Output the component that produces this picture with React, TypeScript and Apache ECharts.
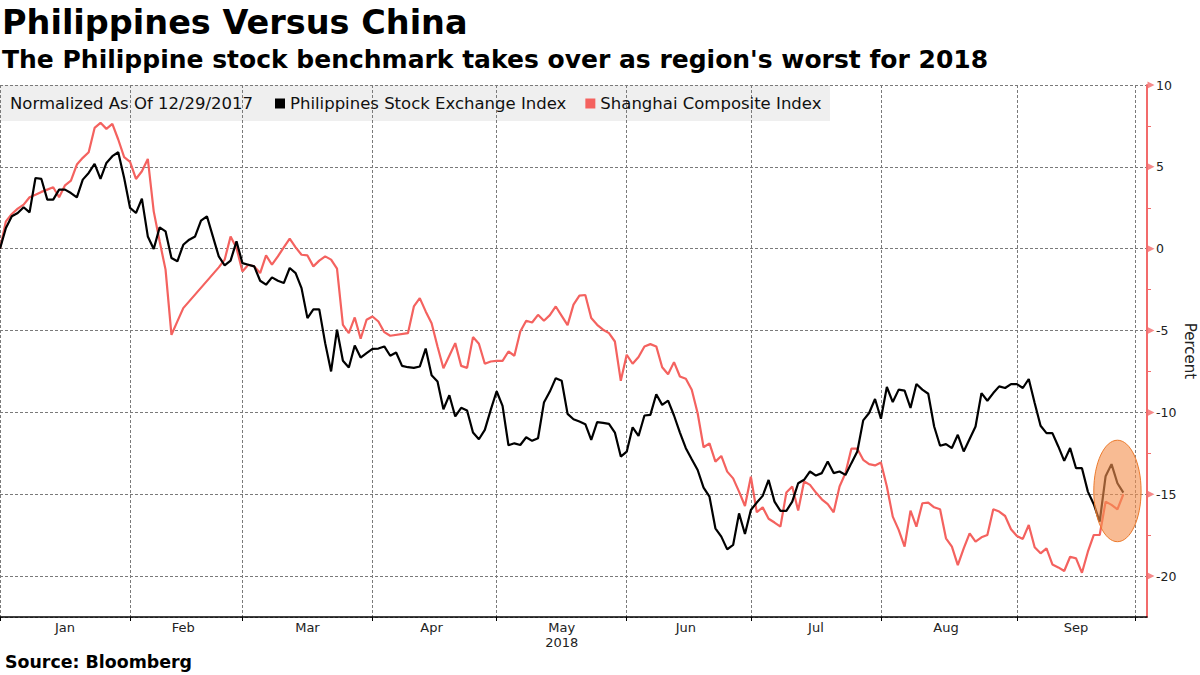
import React, { useEffect, useRef } from "react";
import * as echarts from "echarts";

const FONT = "DejaVu Sans";

const titleText = "Philippines Versus China";
const subtitleText = "The Philippine stock benchmark takes over as region's worst for 2018";
const sourceText = "Source: Bloomberg";
const legendNote = "Normalized As Of 12/29/2017";

const phName = "Philippines Stock Exchange Index";
const shName = "Shanghai Composite Index";

// month labels and number of trading-day slots per month on the x axis
const monthNames = ["Jan", "Feb", "Mar", "Apr", "May", "Jun", "Jul", "Aug", "Sep", "Oct"];
const tradingDays = [22, 19, 22, 21, 22, 21, 22, 23, 20, 3];
const yearLabel = "2018";
const yearUnderMonth = "May";

// major y tick values (marked with small arrows on the right axis)
const yTickValues = [10, 5, 0, -5, -10, -15, -20];

// percent change since 12/29/2017, one value per trading day
const phValues = [
  0, 1.26, 1.98, 2.18, 2.53, 2.22, 4.32, 4.26, 3.0, 3.0, 3.61, 3.61, 3.4, 3.14, 4.22, 4.63, 5.18, 4.26, 5.24, 5.65,
  5.89, 4.32, 2.49, 2.18, 3.06, 0.75, -0.02, 1.3, 1.06, -0.57, -0.77, 0.24, 0.55, 0.75, 1.71, 1.98, 0.75, -0.47, -1.02, -0.73,
  0.45, -0.88, -0.98, -1.08, -1.96, -2.2, -1.75, -1.96, -2.1, -1.18, -1.49, -2.41, -4.24, -3.71, -3.71, -5.77, -7.5, -4.95, -6.85, -7.26,
  -5.91, -6.65, -6.38, -6.12, -6.1, -5.97, -6.54, -6.34, -7.16, -7.24, -7.28, -7.2, -6.1, -7.73, -8.11, -9.81, -8.95, -10.25, -9.72, -9.89,
  -11.23, -11.64, -11.07, -9.85, -8.71, -9.6, -12.01, -11.89, -11.99, -11.52, -11.74, -11.58, -9.4, -8.73, -7.91, -8.07, -10.09, -10.42, -10.56, -10.72,
  -11.68, -10.6, -10.64, -10.7, -11.23, -12.7, -12.4, -10.91, -11.44, -10.19, -10.15, -8.89, -9.54, -9.28, -10.19, -11.23, -12.19, -12.86, -13.52, -14.6,
  -15.15, -17.08, -17.59, -18.37, -18.1, -16.17, -17.43, -15.96, -15.51, -15.1, -14.13, -15.45, -16.02, -16.02, -15.45, -14.33, -14.12, -13.61, -13.86, -13.71,
  -13.0, -13.71, -13.61, -13.82, -13.1, -12.39, -10.49, -10.04, -9.18, -10.39, -8.45, -9.37, -8.61, -8.67, -9.73, -8.27, -8.61, -8.86, -10.86, -12.04,
  -11.94, -12.18, -11.37, -12.39, -11.63, -10.86, -8.82, -9.29, -8.82, -8.41, -8.51, -8.27, -8.27, -8.51, -7.96, -9.43, -10.82, -11.27, -11.27, -12.08,
  -12.96, -12.18, -13.41, -13.41, -14.84, -15.61, -16.67, -13.9, -13.16, -14.33, -14.9,
];

const shValues = [
  0, 1.67, 2.12, 2.45, 2.69, 3.14, 3.3, 3.47, 3.61, 3.75, 3.14, 3.87, 4.16, 5.14, 5.55, 5.89, 7.38, 7.69, 7.32, 7.62,
  6.67, 5.59, 5.3, 4.26, 4.73, 5.48, 2.28, 0.45, -1.28, -5.26, -4.44, -3.63, null, null, null, null, null, -1.14, -0.67, 0.75,
  0.04, -1.39, -0.98, -1.08, -1.49, -0.41, -0.98, -0.47, 0.08, 0.61, 0.08, -0.37, -0.41, -1.08, -0.73, -0.47, -0.67, -1.22, -4.65, -5.16,
  -4.2, -5.5, -4.34, -4.14, -4.45, -5.1, -5.32, null, null, -5.16, -3.53, -3.02, -3.83, -4.55, -5.97, -7.3, -6.54, -5.77, -7.16, -7.28,
  -5.4, -5.81, -7.03, -6.89, -6.85, -6.85, -6.28, -6.54, -5.06, -4.4, -4.51, -4.04, -4.4, -4.06, -3.53, -4.1, -4.67, -3.42, -2.87, -2.83,
  -4.24, -4.65, -4.95, -5.16, -5.67, -8.07, -6.48, -7.03, -6.62, -5.97, -5.83, -5.97, -7.24, -7.67, -6.93, -7.81, -7.95, -8.62, -10.05, -12.13,
  -11.89, -13.01, -12.66, -13.62, -14.03, -14.84, -15.72, -13.93, -16.1, -15.8, -16.5, -16.73, -16.98, -14.9, -14.53, -16.0, -14.22, -14.43, -14.9, -15.31,
  -15.61, -16.1, -14.53, -13.71, -12.22, -12.22, -12.9, -13.16, -13.24, -13.06, -14.53, -16.37, -17.18, -18.2, -16.0, -16.98, -15.55, -15.51, -15.8, -15.92,
  -17.69, -18.2, -19.33, -18.31, -17.39, -17.9, -17.63, -17.49, -15.92, -16.06, -16.33, -17.14, -17.55, -17.73, -16.88, -18.24, -18.61, -18.31, -19.29, -19.47,
  -19.69, -18.82, -18.92, -19.8, -18.51, -17.49, -17.49, -15.45, -15.65, -15.92, -15.0,
];

// highlighted region (circle around latest readings): [x start, y top, x end, y bottom]
const highlightBox = [185, -11.7, 193, -17.9];

const yMin = -22.5;
const yMax = 10;

const PH_COLOR = "#000000";
const SH_COLOR = "#f4625f";
const AXIS_RED = "#f26b6b";
const GRID_COLOR = "#7a7a7a";

export default function App() {
  const ref = useRef<HTMLDivElement | null>(null);

  useEffect(() => {
    if (!ref.current) return;
    const chart = echarts.init(ref.current, null, { renderer: "svg" });

    const categories: string[] = [];
    const monthStart = new Set<number>();
    const labelIdx = new Set<number>();
    let idx = 0;
    monthNames.forEach((m, mi) => {
      const n = tradingDays[mi];
      monthStart.add(idx);
      if (m !== "Oct") labelIdx.add(idx + Math.floor(n / 2));
      for (let d = 1; d <= n; d++) categories.push(`${m} ${d}`);
      idx += n;
    });
    const lastIdx = categories.length - 1;

    const option: any = {
      animation: false,
      backgroundColor: "#ffffff",
      title: [
        {
          text: titleText,
          left: 2,
          top: 5,
          padding: 0,
          textStyle: { fontFamily: FONT, fontWeight: "bold", fontSize: 33.5, color: "#000" },
        },
        {
          text: subtitleText,
          left: 2,
          top: 47,
          padding: 0,
          textStyle: { fontFamily: FONT, fontWeight: "bold", fontSize: 25, color: "#000" },
        },
        {
          text: sourceText,
          left: 5,
          top: 653,
          padding: 0,
          textStyle: { fontFamily: FONT, fontWeight: "bold", fontSize: 17.4, color: "#000" },
        },
      ],
      legend: {
        data: [phName, shName],
        left: 275,
        top: 95,
        padding: 0,
        icon: "rect",
        itemWidth: 10,
        itemHeight: 10,
        itemGap: 19,
        textStyle: { fontFamily: FONT, fontSize: 16.5, color: "#111" },
      },
      graphic: [
        {
          type: "rect",
          left: 0,
          top: 85,
          z: -10,
          silent: true,
          shape: { width: 830, height: 36 },
          style: { fill: "#efefef" },
        },
        {
          type: "text",
          left: 10,
          top: 95,
          z: 10,
          style: { text: legendNote, fontFamily: FONT, fontSize: 16.5, fill: "#111" },
        },
      ],
      grid: { left: 0, right: 53, top: 85, bottom: 58, containLabel: false, outerBoundsMode: "none" },
      xAxis: {
        type: "category",
        data: categories,
        boundaryGap: false,
        axisLine: { show: true, onZero: false, lineStyle: { color: "#000", width: 1.5 } },
        axisTick: {
          show: true,
          length: 4,
          interval: (i: number) => monthStart.has(i),
          lineStyle: { color: "#000", width: 1 },
        },
        axisLabel: {
          interval: (i: number) => labelIdx.has(i),
          margin: 3,
          fontFamily: FONT,
          fontSize: 13,
          color: "#222",
          lineHeight: 15,
          formatter: (v: string) => {
            const m = v.split(" ")[0];
            return m === yearUnderMonth ? `${m}\n${yearLabel}` : m;
          },
        },
        splitLine: {
          show: true,
          interval: (i: number) => monthStart.has(i),
          lineStyle: { color: GRID_COLOR, type: [3, 2], width: 1 },
        },
      },
      yAxis: {
        type: "value",
        position: "right",
        min: yMin,
        max: yMax,
        name: "Percent",
        nameLocation: "middle",
        nameRotate: -90,
        nameGap: 35,
        nameMoveOverlap: false,
        nameTextStyle: { fontFamily: FONT, fontSize: 15, color: "#222" },
        axisLine: { show: true, lineStyle: { color: AXIS_RED, width: 2 } },
        axisTick: { show: false },
        minorTick: { show: true, splitNumber: 2, length: 4, lineStyle: { color: AXIS_RED, width: 1 } },
        axisLabel: {
          showMinLabel: false,
          margin: 9,
          fontFamily: FONT,
          fontSize: 12.5,
          color: "#222",
        },
        splitLine: { show: true, lineStyle: { color: GRID_COLOR, type: [3, 2], width: 1 } },
      },
      series: [
        {
          name: phName,
          type: "line",
          data: phValues,
          symbol: "none",
          color: PH_COLOR,
          lineStyle: { color: PH_COLOR, width: 2.2 },
          z: 3,
        },
        {
          name: shName,
          type: "line",
          data: shValues,
          symbol: "none",
          connectNulls: true,
          color: SH_COLOR,
          lineStyle: { color: SH_COLOR, width: 2.2 },
          z: 2,
        },
        {
          name: "highlight",
          type: "custom",
          silent: true,
          z: 5,
          data: [highlightBox],
          encode: { x: 0, y: 1 },
          renderItem: (_p: any, api: any) => {
            const a = api.coord([api.value(0), api.value(1)]);
            const b = api.coord([api.value(2), api.value(3)]);
            return {
              type: "ellipse",
              shape: {
                cx: (a[0] + b[0]) / 2,
                cy: (a[1] + b[1]) / 2,
                rx: Math.abs(b[0] - a[0]) / 2,
                ry: Math.abs(b[1] - a[1]) / 2,
              },
              style: { fill: "rgba(244,145,80,0.62)", stroke: "#ec7a2c", lineWidth: 1 },
            };
          },
        },
        {
          name: "yTickMarks",
          type: "scatter",
          silent: true,
          clip: false,
          z: 6,
          data: yTickValues.map((v) => [lastIdx, v]),
          symbol: "triangle",
          symbolSize: [7, 7],
          symbolRotate: -90,
          symbolOffset: [4, 0],
          itemStyle: { color: AXIS_RED },
        },
      ],
    };

    chart.setOption(option);
    return () => chart.dispose();
  }, []);

  return <div ref={ref} style={{ width: 1200, height: 675, position: "absolute", left: 0, top: 0 }} />;
}
